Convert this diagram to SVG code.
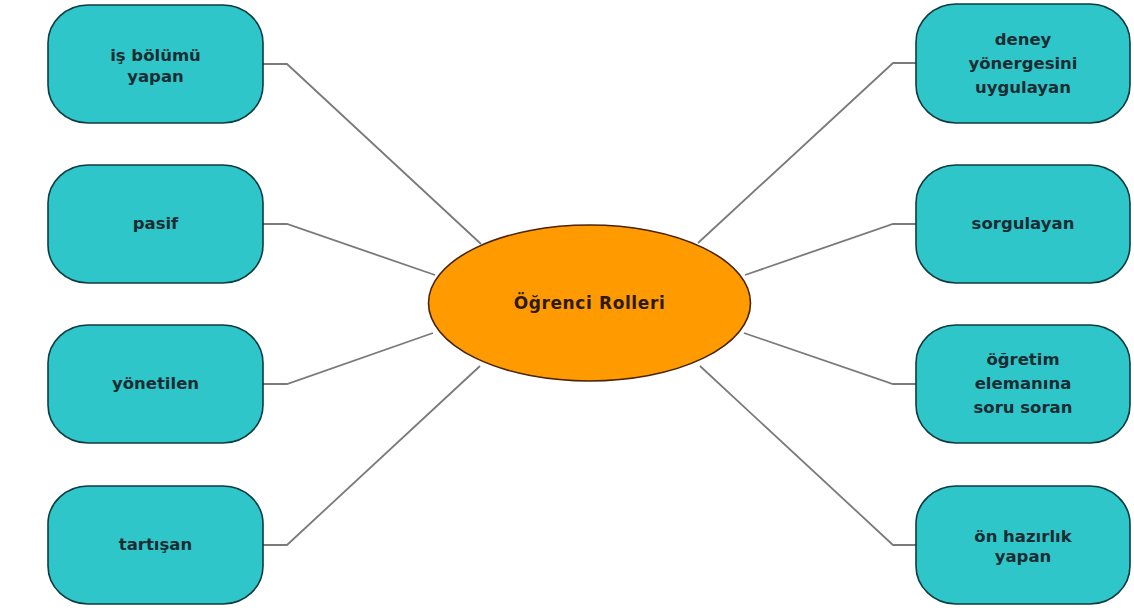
<svg xmlns="http://www.w3.org/2000/svg" width="1134" height="608" viewBox="0 0 1134 608">
  <style>
    .node rect { fill: #2fc6c9; stroke: #0d3b42; stroke-width: 1.6; }
    .node text { font-family: "DejaVu Sans", Verdana, sans-serif; font-size: 16.5px; font-weight: bold; fill: #1b2d33; text-anchor: middle; }
    .hub ellipse { fill: #ff9a00; stroke: #4a2406; stroke-width: 1.6; }
    .hub text { font-family: "DejaVu Sans", Verdana, sans-serif; font-size: 17px; font-weight: bold; fill: #2e1a0c; text-anchor: middle; letter-spacing: 0.6px; }
    .links path { fill: none; stroke: #7a7a7a; stroke-width: 1.8; }
  </style>
  <rect width="1134" height="608" fill="#ffffff"/>

  <!-- connectors: short horizontal stub at the box, then straight to the ellipse -->
  <g class="links" id="connectors">
    <path d="M263 64 H287 L481 244"/>
    <path d="M263 224 H287 L435 275"/>
    <path d="M263 384 H287 L433 333"/>
    <path d="M263 545 H287 L480 366"/>
    <path d="M916 63 H893 L698 243"/>
    <path d="M916 224 H893 L745 275"/>
    <path d="M916 384 H893 L744 333"/>
    <path d="M916 545 H893 L700 366"/>
  </g>

  <!-- central topic -->
  <g class="hub" id="node-center">
    <ellipse cx="589.5" cy="303" rx="161" ry="78"/>
    <text x="589.5" y="309">Öğrenci Rolleri</text>
  </g>

  <!-- left column -->
  <g class="node" id="node-is-bolumu">
    <rect x="48" y="5" width="215" height="118" rx="40" ry="38"/>
    <text x="155.5" y="61">iş bölümü</text>
    <text x="155.5" y="82">yapan</text>
  </g>
  <g class="node" id="node-pasif">
    <rect x="48" y="165" width="215" height="118" rx="40" ry="38"/>
    <text x="155.5" y="229">pasif</text>
  </g>
  <g class="node" id="node-yonetilen">
    <rect x="48" y="325" width="215" height="118" rx="40" ry="38"/>
    <text x="155.5" y="389">yönetilen</text>
  </g>
  <g class="node" id="node-tartisan">
    <rect x="48" y="486" width="215" height="118" rx="40" ry="38"/>
    <text x="155.5" y="550">tartışan</text>
  </g>

  <!-- right column -->
  <g class="node" id="node-deney">
    <rect x="916" y="4" width="214" height="119" rx="40" ry="38"/>
    <text x="1023" y="45">deney</text>
    <text x="1023" y="69">yönergesini</text>
    <text x="1023" y="93">uygulayan</text>
  </g>
  <g class="node" id="node-sorgulayan">
    <rect x="916" y="165" width="214" height="118" rx="40" ry="38"/>
    <text x="1023" y="229">sorgulayan</text>
  </g>
  <g class="node" id="node-ogretim">
    <rect x="916" y="325" width="214" height="118" rx="40" ry="38"/>
    <text x="1023" y="365">öğretim</text>
    <text x="1023" y="389">elemanına</text>
    <text x="1023" y="413">soru soran</text>
  </g>
  <g class="node" id="node-on-hazirlik">
    <rect x="916" y="486" width="214" height="118" rx="40" ry="38"/>
    <text x="1023" y="542">ön hazırlık</text>
    <text x="1023" y="562">yapan</text>
  </g>
</svg>
